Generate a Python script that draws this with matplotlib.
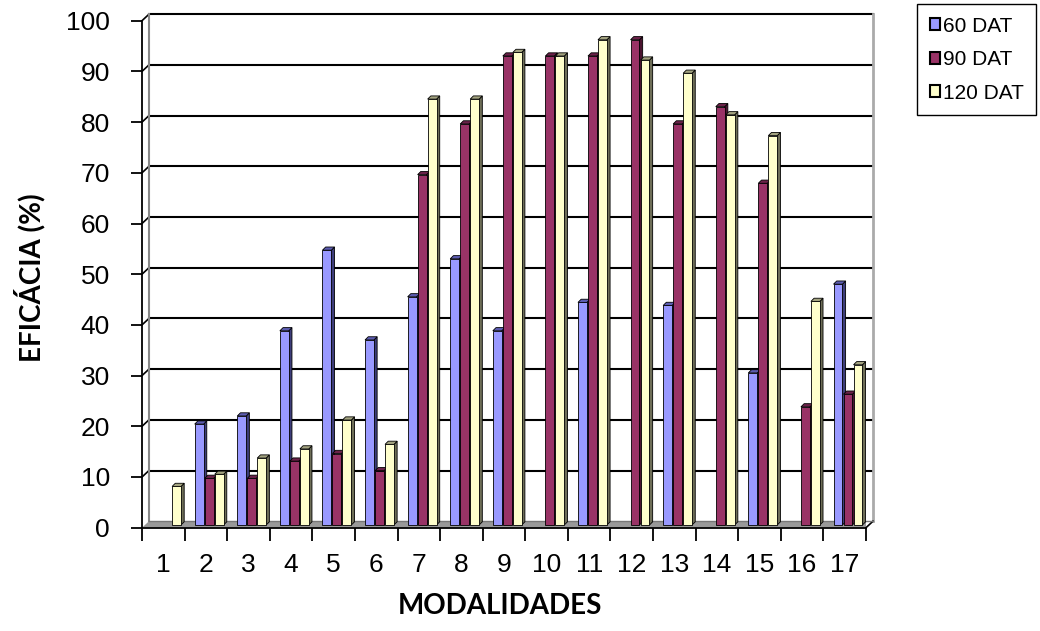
import matplotlib
matplotlib.use("Agg")
import matplotlib.pyplot as plt
from matplotlib.patches import Polygon, Rectangle, Patch

# data
modalidades = list(range(1, 18))
dat60 = [0, 19.9, 21.5, 38.3, 54.2, 36.5, 45.0, 52.5, 38.3, 0, 43.9, 0, 43.3, 0, 30.0, 0, 47.5]
dat90 = [0, 9.2, 9.2, 12.6, 14.1, 10.7, 69.1, 79.1, 92.5, 92.5, 92.5, 95.7, 79.1, 82.5, 67.4, 23.3, 25.8]
dat120 = [7.6, 10.0, 13.2, 15.0, 20.7, 15.9, 84.0, 84.0, 93.2, 92.5, 95.7, 91.7, 89.1, 80.9, 76.8, 44.1, 31.6]
series_names = ["60 DAT", "90 DAT", "120 DAT"]

front_colors = ["#9999FF", "#993366", "#FFFFCC"]
side_colors = ["#3d3d7a", "#4a1530", "#6e6e58"]
top_colors = ["#5c5cb0", "#6b2249", "#a3a380"]

W, H = 1040, 631
fig = plt.figure(figsize=(W / 100, H / 100), dpi=100)
plt.rcParams["font.family"] = ["Liberation Sans", "DejaVu Sans"]

# front frame in pixels: x 142..866, y (0 at 527.7, 100 at 20.7)
left, right, top, bottom = 142, 866, 20.7, 527.7
ax = fig.add_axes([left / W, 1 - bottom / H, (right - left) / W, (bottom - top) / H])
ax.set_xlim(0.5, 17.5)
ax.set_ylim(0, 100)

ppx = (right - left) / 17.0   # pixels per x unit
ppy = (bottom - top) / 100.0  # pixels per y unit
def ux(p):
    return p / ppx
def uy(p):
    return p / ppy

# back wall offset and bar depth
bx, by = ux(7), uy(6.5)
dx, dy = ux(3.2), uy(3.2)
base = uy(2.7)

# floor
floor = Polygon([(0.5, 0), (17.5, 0), (17.5 + bx, by), (0.5 + bx, by)],
                closed=True, facecolor="#999999", edgecolor="none", zorder=1)
ax.add_patch(floor)
ax.plot([17.5, 17.5 + bx], [0, by], color="black", lw=1.2, zorder=2, clip_on=False)
ax.plot([0.5 + bx, 17.5 + bx], [by, by], color="#777777", lw=1.0, zorder=2, clip_on=False)

# back wall gridlines and edges
for v in range(10, 101, 10):
    ax.plot([0.5 + bx, 17.5 + bx], [v + by, v + by], color="black", lw=1.5,
            zorder=1, clip_on=False)
    ax.plot([0.5, 0.5 + bx], [v, v + by], color="black", lw=1.2, zorder=1, clip_on=False)
ax.plot([0.5 + bx, 0.5 + bx], [by, 100 + by], color="#888888", lw=1.5, zorder=1, clip_on=False)
ax.plot([17.5 + bx, 17.5 + bx], [by, 100 + by], color="#aaaaaa", lw=2, zorder=1, clip_on=False)

# bars with fake 3d faces
offsets = [ux(-11.2), ux(-1.2), ux(8.8)]
bw = ux(8.9)
z = 3
for i, cat in enumerate(modalidades):
    for j, vals in enumerate([dat60, dat90, dat120]):
        v = vals[i]
        if v <= 0:
            continue
        x0 = cat + offsets[j]
        x1 = x0 + bw
        y0, y1 = base, base + v
        ax.add_patch(Polygon([(x1, y0), (x1 + dx, y0 + dy), (x1 + dx, y1 + dy), (x1, y1)],
                             closed=True, facecolor=side_colors[j], edgecolor="black",
                             lw=0.6, zorder=z))
        ax.add_patch(Polygon([(x0, y1), (x1, y1), (x1 + dx, y1 + dy), (x0 + dx, y1 + dy)],
                             closed=True, facecolor=top_colors[j], edgecolor="black",
                             lw=0.6, zorder=z))
        ax.add_patch(Rectangle((x0, y0), bw, v, facecolor=front_colors[j],
                               edgecolor="black", lw=0.6, zorder=z + 0.5))
        z += 1

# axes styling
for s in ["top", "right"]:
    ax.spines[s].set_visible(False)
ax.spines["left"].set_linewidth(1.3)
ax.spines["bottom"].set_linewidth(1.3)
ax.spines["left"].set_zorder(100)
ax.spines["bottom"].set_zorder(100)
ax.set_yticks(range(0, 101, 10))
ax.set_xticks(modalidades)
ax.set_xticks([k + 0.5 for k in range(0, 18)], minor=True)
ax.tick_params(axis="y", direction="out", length=8, width=1.3, pad=15, labelsize=19)
ax.tick_params(axis="x", which="major", length=0, pad=18, labelsize=19)
ax.tick_params(axis="x", which="minor", direction="out", length=9, width=1.3)
ax.set_facecolor("none")

fig.text(500 / W, 1 - 606 / H, "MODALIDADES", ha="center", va="center",
         fontsize=20, fontweight="bold", family=["Lato", "DejaVu Sans"])
fig.text(30 / W, 1 - 278 / H, "EFICÁCIA (%)", ha="center", va="center", rotation=90,
         fontsize=20, fontweight="bold", family=["Lato", "DejaVu Sans"])

handles = [Patch(facecolor=c, edgecolor="black", lw=1.5) for c in front_colors]
leg = fig.legend(handles, series_names, loc="upper left",
                 bbox_to_anchor=(917 / W, 1 - 4 / H), fancybox=False,
                 edgecolor="black", framealpha=1, fontsize=15,
                 handlelength=0.5, handleheight=0.5, handletextpad=0.15,
                 labelspacing=0.7, borderpad=0.6, borderaxespad=0)
leg.get_frame().set_linewidth(1.0)

plt.savefig("out.png", dpi=100)
